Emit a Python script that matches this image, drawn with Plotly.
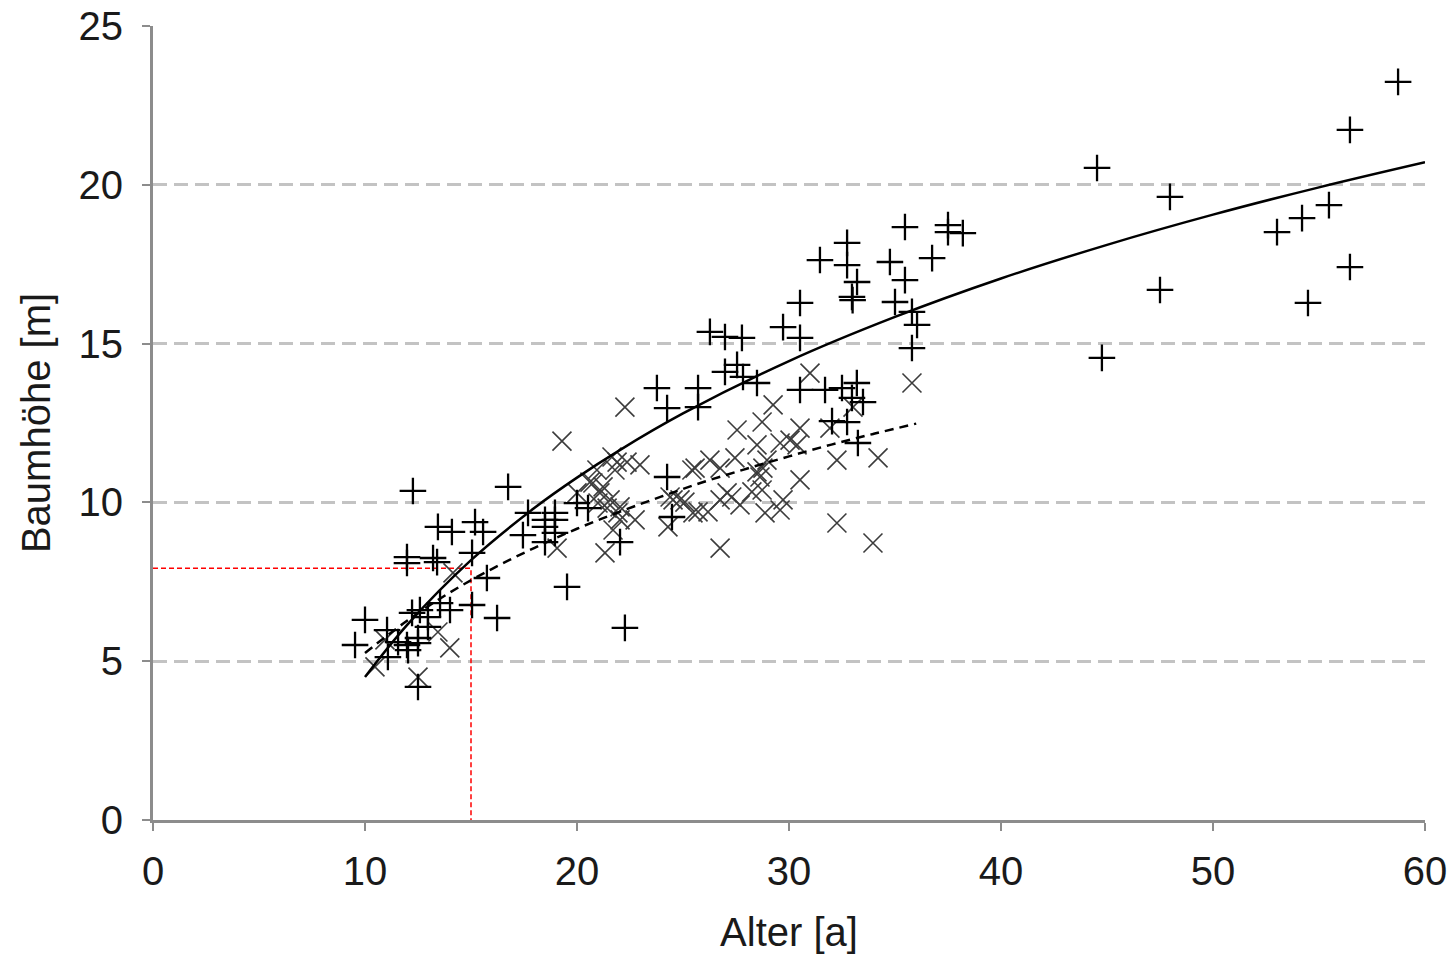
import plotly.graph_objects as go

# '+' series (Alter, Baumhöhe)
plus_x = [9.53, 10.0, 11.04, 11.56, 11.98, 12.03, 12.5, 12.5, 12.22, 12.59, 12.97, 12.97, 12.5,
          13.54, 14.01, 15.05, 16.23, 11.08, 12.26, 16.75, 13.44, 14.10, 15.19, 15.57, 11.98,
          11.98, 13.21, 13.40, 15.05, 17.45, 15.75, 17.69, 18.49, 18.49, 18.96, 18.96, 18.96,
          18.49, 19.53, 22.26, 20.0, 20.52, 22.03, 24.25, 24.48, 23.77, 24.25, 25.71, 25.71,
          26.27, 26.98, 27.78, 26.98, 27.55, 27.83, 28.49, 29.72, 30.52, 30.52, 30.52, 31.7,
          32.5, 33.2, 32.97, 33.49, 32.03, 32.74, 33.25, 31.46, 32.74, 32.74, 33.21, 32.97,
          33.0, 35.47, 34.76, 36.75, 37.5, 37.5, 38.2, 35.47, 35.0, 35.8, 36.04, 35.8,
          58.73, 56.46, 44.53, 47.97, 55.47, 54.2, 53.02, 56.46, 47.5, 54.48, 44.76]
plus_y = [5.51, 6.30, 5.98, 5.60, 5.51, 5.35, 5.73, 5.57, 6.52, 6.61, 6.39, 6.08, 4.19,
          6.83, 6.61, 6.77, 6.36, 5.13, 10.36, 10.49, 9.23, 9.07, 9.38, 9.07, 8.28,
          8.09, 8.25, 8.12, 8.41, 8.97, 7.62, 9.67, 9.45, 9.23, 9.67, 9.45, 9.04,
          8.75, 7.34, 6.05, 9.98, 9.82, 8.75, 10.80, 9.54, 13.60, 12.97, 13.60, 13.0,
          15.37, 15.21, 15.18, 14.11, 14.33, 13.95, 13.76, 15.52, 15.18, 16.28, 13.54, 13.54,
          13.6, 13.76, 13.29, 13.16, 12.56, 12.53, 11.87, 17.63, 18.17, 17.47, 16.94, 16.47,
          16.37, 18.67, 17.57, 17.69, 18.73, 18.51, 18.48, 17.0, 16.31, 16.0, 15.59, 14.86,
          23.24, 21.73, 20.53, 19.62, 19.36, 18.95, 18.51, 17.41, 16.69, 16.28, 14.55]

# 'x' series
x_x = [10.94, 13.44, 14.0, 10.47, 12.5, 14.15, 19.06, 19.29, 22.26, 20.0, 20.75, 20.94, 21.08,
       21.23, 20.99, 21.42, 21.65, 21.89, 22.36, 21.79, 22.97, 22.03, 22.03, 22.74, 21.7, 21.32,
       24.39, 24.53, 24.86, 25.09, 24.29, 25.42, 25.47, 25.57, 26.27, 26.75, 27.45, 27.55, 28.73,
       29.25, 30.99, 28.49, 29.58, 30.05, 30.38, 30.52, 31.93, 32.26, 34.2, 35.8, 30.52, 28.96,
       28.49, 28.77, 28.63, 27.08, 28.25, 28.73, 25.71, 26.18, 26.75, 27.69, 28.87, 29.58, 29.72,
       32.26, 26.75, 33.96, 33.02, 20.61, 21.56, 21.93, 27.3]
x_y = [5.67, 5.92, 5.42, 4.82, 4.50, 7.78, 8.56, 11.93, 13.0, 10.30, 10.61, 11.02, 10.30,
       10.49, 9.98, 9.82, 11.43, 11.27, 11.27, 11.02, 11.18, 9.86, 9.45, 9.45, 9.13, 8.41,
       10.17, 10.08, 10.08, 10.01, 9.23, 11.02, 9.67, 11.08, 11.33, 11.08, 11.40, 12.28, 12.53,
       13.07, 14.07, 11.81, 11.87, 11.96, 11.81, 12.34, 12.34, 11.33, 11.40, 13.76, 10.71, 11.33,
       10.96, 11.08, 10.80, 10.30, 10.33, 10.39, 9.70, 9.70, 10.08, 9.92, 9.67, 9.76, 10.08,
       9.35, 8.56, 8.72, 13.0, 10.64, 10.08, 9.67, 10.17]

# trend curves
solid_x = [10, 12, 15, 18, 20, 22, 25, 30, 35, 40, 45, 50, 55, 60]
solid_y = [4.5, 6.15, 8.18, 9.83, 10.78, 11.64, 12.8, 14.45, 15.84, 17.05, 18.11, 19.06, 19.92, 20.71]
dash_x = [10, 12, 14, 16, 18, 20, 22, 24, 26, 28, 30, 32, 34, 36]
dash_y = [5.26, 6.28, 7.16, 7.91, 8.57, 9.17, 9.70, 10.19, 10.65, 11.06, 11.45, 11.82, 12.16, 12.48]

# red reference lines
ref_x = [0, 15, 15]
ref_y = [7.93, 7.93, 0]

x_ticks = [0, 10, 20, 30, 40, 50, 60]
y_ticks = [0, 5, 10, 15, 20, 25]

fig = go.Figure()
fig.add_trace(go.Scatter(x=ref_x, y=ref_y, mode="lines",
                         line=dict(color="#ff0000", width=1.5, dash="5px,3px"), hoverinfo="skip"))
fig.add_trace(go.Scatter(x=x_x, y=x_y, mode="markers",
                         marker=dict(symbol="x-thin", size=19, color="#3c3c3c",
                                     line=dict(color="#3c3c3c", width=1.6))))
fig.add_trace(go.Scatter(x=plus_x, y=plus_y, mode="markers",
                         marker=dict(symbol="cross-thin", size=19, color="#000000",
                                     line=dict(color="#000000", width=2.3))))
fig.add_trace(go.Scatter(x=solid_x, y=solid_y, mode="lines",
                         line=dict(color="#000000", width=2.5, shape="spline")))
fig.add_trace(go.Scatter(x=dash_x, y=dash_y, mode="lines",
                         line=dict(color="#000000", width=2.5, dash="9px,6px", shape="spline")))

axis_font = dict(family="Liberation Sans, Arial, sans-serif", size=40, color="#1a1a1a")
fig.update_layout(
    width=1453, height=954,
    margin=dict(l=153, r=28, t=26, b=134),
    paper_bgcolor="white", plot_bgcolor="white",
    showlegend=False,
    font=axis_font,
    xaxis=dict(range=[0, 60], tickvals=x_ticks, showgrid=False, zeroline=False,
               showline=True, linecolor="#8c8c8c", linewidth=3, automargin=False,
               ticks="outside", ticklen=8, tickwidth=2, tickcolor="#8c8c8c",
               ticklabelstandoff=6, tickfont=axis_font,
               title=dict(text="Alter [a]", font=axis_font, standoff=28)),
    yaxis=dict(range=[0, 25], tickvals=y_ticks, showgrid=True, gridcolor="#c3c3c3",
               gridwidth=3, griddash="14px,7px", zeroline=False, automargin=False,
               showline=True, linecolor="#8c8c8c", linewidth=3,
               ticks="outside", ticklen=8, tickwidth=2, tickcolor="#8c8c8c",
               ticklabelstandoff=11, tickfont=axis_font,
               title=dict(text="Baumhöhe [m]", font=axis_font, standoff=16)),
)
fig.write_html("out.html")
